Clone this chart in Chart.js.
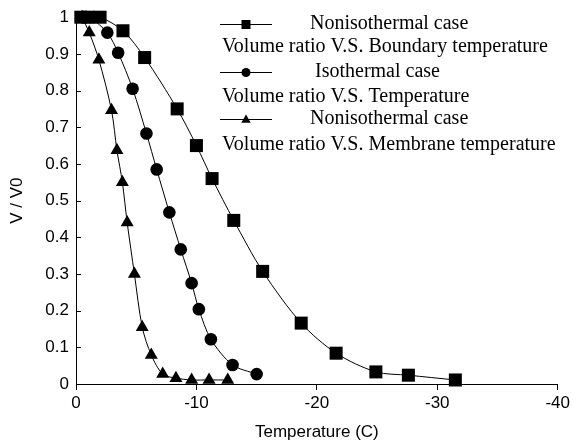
<!DOCTYPE html>
<html>
<head>
<meta charset="utf-8">
<script src="https://cdn.jsdelivr.net/npm/chart.js@4"></script>
<style>
  html, body { margin: 0; padding: 0; background: #fff; }
</style>
</head>
<body>
<canvas id="chart" width="573" height="446"></canvas>
<script>
// Nonisothermal case, volume ratio vs boundary temperature (squares)
const boundaryTemp = [-0.4, -1.0, -2.0, -3.9, -5.7, -8.4, -10.0, -11.3, -13.1, -15.5, -18.7, -21.6, -24.9, -27.6, -31.5];
const boundaryRatio = [1.0, 1.0, 1.0, 0.963, 0.89, 0.75, 0.65, 0.56, 0.446, 0.307, 0.166, 0.084, 0.033, 0.024, 0.011];

// Isothermal case, volume ratio vs temperature (circles)
const isoTemp = [-1.2, -2.6, -3.5, -4.7, -5.85, -6.7, -7.75, -8.7, -9.6, -10.2, -11.2, -13.0, -15.0];
const isoRatio = [1.0, 0.958, 0.903, 0.805, 0.683, 0.585, 0.468, 0.367, 0.275, 0.204, 0.122, 0.052, 0.027];

// Nonisothermal case, volume ratio vs membrane temperature (triangles)
const membraneTemp = [-0.5, -1.1, -1.9, -2.95, -3.4, -3.85, -4.25, -4.85, -5.5, -6.25, -7.2, -8.3, -9.6, -11.05, -12.6];
const membraneRatio = [1.0, 0.958, 0.884, 0.746, 0.637, 0.55, 0.44, 0.30, 0.155, 0.079, 0.027, 0.016, 0.011, 0.011, 0.011];

const xTicks = [0, -10, -20, -30, -40];
const yTicks = [0, 0.1, 0.2, 0.3, 0.4, 0.5, 0.6, 0.7, 0.8, 0.9, 1];

const legendLines = [
  ["Nonisothermal case", "Volume ratio V.S. Boundary temperature"],
  ["Isothermal case", "Volume ratio V.S. Temperature"],
  ["Nonisothermal case", "Volume ratio V.S. Membrane temperature"],
];

function toPoints(xs, ys) {
  return xs.map((x, i) => ({ x: x, y: ys[i] }));
}

function series(xs, ys, style, radius) {
  return {
    data: toPoints(xs, ys),
    borderColor: "#000",
    backgroundColor: "#000",
    borderWidth: 1,
    pointStyle: style,
    pointRadius: radius,
    pointBorderWidth: 0,
    pointBackgroundColor: "#000",
    tension: 0.3,
    clip: false,
  };
}

function drawMarker(ctx, style, x, y, r) {
  ctx.beginPath();
  if (style === "rect") {
    ctx.rect(x - r, y - r, 2 * r, 2 * r);
  } else if (style === "circle") {
    ctx.arc(x, y, r, 0, Math.PI * 2);
  } else {
    ctx.moveTo(x, y - r * 1.1);
    ctx.lineTo(x + r * 1.05, y + r * 0.7);
    ctx.lineTo(x - r * 1.05, y + r * 0.7);
    ctx.closePath();
  }
  ctx.fill();
}

// inward ticks on the y axis and the two-line legend
const extras = {
  id: "extras",
  afterDraw(chart) {
    const ctx = chart.ctx;
    const yScale = chart.scales.y;
    const left = chart.chartArea.left;
    ctx.save();
    ctx.strokeStyle = "#000";
    ctx.fillStyle = "#000";
    ctx.lineWidth = 1;
    yTicks.forEach((v) => {
      const py = Math.round(yScale.getPixelForValue(v)) + 0.5;
      ctx.beginPath();
      ctx.moveTo(left, py);
      ctx.lineTo(left + 5, py);
      ctx.stroke();
    });

    const styles = ["rect", "circle", "triangle"];
    const headY = [24, 72, 119];
    const subY = [47, 97, 145];
    const headX = [310, 315, 310];
    ctx.font = "20px 'Liberation Serif'";
    ctx.textBaseline = "middle";
    ctx.textAlign = "left";
    legendLines.forEach((lines, i) => {
      const y = headY[i] + 0.5;
      ctx.beginPath();
      ctx.moveTo(220, y);
      ctx.lineTo(272, y);
      ctx.stroke();
      drawMarker(ctx, styles[i], 246, y, 4.5);
      ctx.fillText(lines[0], headX[i], headY[i]);
      ctx.fillText(lines[1], 222, subY[i]);
    });
    ctx.restore();
  },
};

const axisFont = { family: "'Liberation Sans', Arial, sans-serif", size: 17 };

new Chart(document.getElementById("chart"), {
  type: "line",
  data: {
    datasets: [
      series(boundaryTemp, boundaryRatio, "rect", 9.2),
      series(isoTemp, isoRatio, "circle", 6.3),
      series(membraneTemp, membraneRatio, "triangle", 7.5),
    ],
  },
  options: {
    responsive: false,
    animation: false,
    layout: { padding: { top: 16, right: 14, bottom: 0, left: 0 } },
    plugins: {
      legend: { display: false },
      tooltip: { enabled: false },
    },
    scales: {
      x: {
        type: "linear",
        min: -40,
        max: 0,
        reverse: true,
        afterFit: (scale) => { scale.height = 62; },
        afterBuildTicks: (scale) => { scale.ticks = xTicks.map((v) => ({ value: v })); },
        grid: { drawOnChartArea: false, drawTicks: true, tickLength: 6, color: "#000" },
        border: { display: true, color: "#000", width: 1 },
        ticks: { color: "#000", font: axisFont, padding: 3, maxRotation: 0 },
        title: { display: true, text: "Temperature (C)", color: "#000", font: axisFont, padding: { top: 0, bottom: 3 } },
      },
      y: {
        type: "linear",
        min: 0,
        max: 1,
        afterFit: (scale) => { scale.width = 76; },
        afterBuildTicks: (scale) => { scale.ticks = yTicks.map((v) => ({ value: v })); },
        grid: { drawOnChartArea: false, drawTicks: false, color: "#000" },
        border: { display: true, color: "#000", width: 1 },
        ticks: { color: "#000", font: axisFont, padding: 7, callback: (v) => String(v) },
        title: { display: true, text: "V / V0", color: "#000", font: axisFont, padding: { top: 7, bottom: 0 } },
      },
    },
  },
  plugins: [extras],
});
</script>
</body>
</html>
